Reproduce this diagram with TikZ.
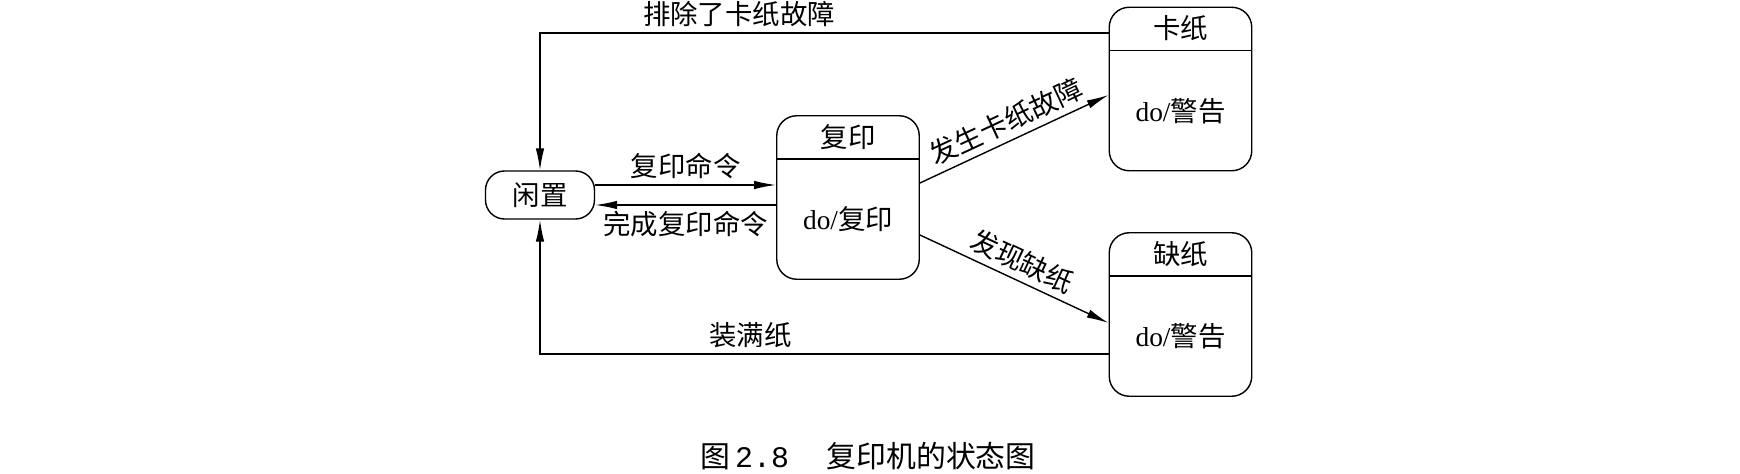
\documentclass[tikz,border=0pt]{standalone}
\usepackage{fontspec}
\setmainfont{Noto Sans CJK SC}
\newfontfamily\lat{Liberation Serif}
\newfontfamily\mono{Liberation Mono}
\usepackage{tikz}
\usetikzlibrary{positioning, arrows.meta}
\usetikzlibrary{calc}

\begin{document}
\begin{tikzpicture}[
		idle/.style={rectangle, draw, rounded corners=0.38cm, minimum width=2.18cm, minimum height=0.96cm, inner sep=0pt},
		state/.style={rectangle, draw, rounded corners=0.4cm, minimum width=2.85cm, minimum height=3.27cm, inner sep=0pt},
		stitle/.style={inner sep=0pt},
		sbody/.style={inner sep=0pt},
		every node/.style={font=\fontsize{15.6pt}{18pt}\selectfont},
		line width=0.8pt,
		>={Latex[length=4.4mm,width=1.7mm]}
		]
		\useasboundingbox (0,0) rectangle (34.8,9.46);
		\node[idle] (idle) at (10.8, 5.56) {闲置};
		
		\node[state] (copy) at (16.96, 5.51) {};
		\node[stitle] (copyt) at ($(copy.north)+(0,-0.44)$) {复印};
		\node[sbody] (copyd) at ($(copy.center)+(0,-0.44)$) {{\lat do/}复印};
		\draw ($(copy.north west)+(0,-0.88)$) to ($(copy.north east)+(0,-0.88)$);
		
		\node[state] (jam) at (23.61, 7.68) {};
		\node[stitle] (jamt) at ($(jam.north)+(0,-0.44)$) {卡纸};
		\node[sbody] (jamd) at ($(jam.center)+(0,-0.44)$) {{\lat do/}警告};
		\draw ($(jam.north west)+(0,-0.88)$) to ($(jam.north east)+(0,-0.88)$);
		
		\node[state] (nopaper) at (23.61, 3.17) {};
		\node[stitle] (nopapert) at ($(nopaper.north)+(0,-0.44)$) {缺纸};
		\node[sbody] (nopaperd) at ($(nopaper.center)+(0,-0.44)$) {{\lat do/}警告};
		\draw ($(nopaper.north west)+(0,-0.88)$) to ($(nopaper.north east)+(0,-0.88)$);
		
		\draw[->] ([yshift=2mm]idle.east) to node[above]{复印命令} ([yshift=2mm]idle.east -| copy.west);
		\draw[->] ([yshift=-2mm]idle.east -| copy.west) to node[below]{完成复印命令} ([yshift=-2mm]idle.east);
		\draw[->] ([yshift=2.9mm]copy.east) to node[above, sloped]{发生卡纸故障} ([yshift=-1.2mm]jam.west);
		\draw[->] ([yshift=-7.5mm]copy.east) to node[above, sloped]{发现缺纸} ([yshift=-1.7mm]nopaper.west);
		\draw[->] ([yshift=11.2mm]jam.west) -| node[above, pos=0.325]{排除了卡纸故障} (idle.north);
		\draw[->] ([yshift=-7.9mm]nopaper.west) -| node[above, pos=0.315]{装满纸} (idle.south);
		
		\node (caption) at (17.36, 0.34) {\fontsize{17pt}{20pt}\selectfont 图\,{\mono 2.8}\hspace{0.75cm}复印机的状态图};
		
		\end{tikzpicture}
\end{document}
